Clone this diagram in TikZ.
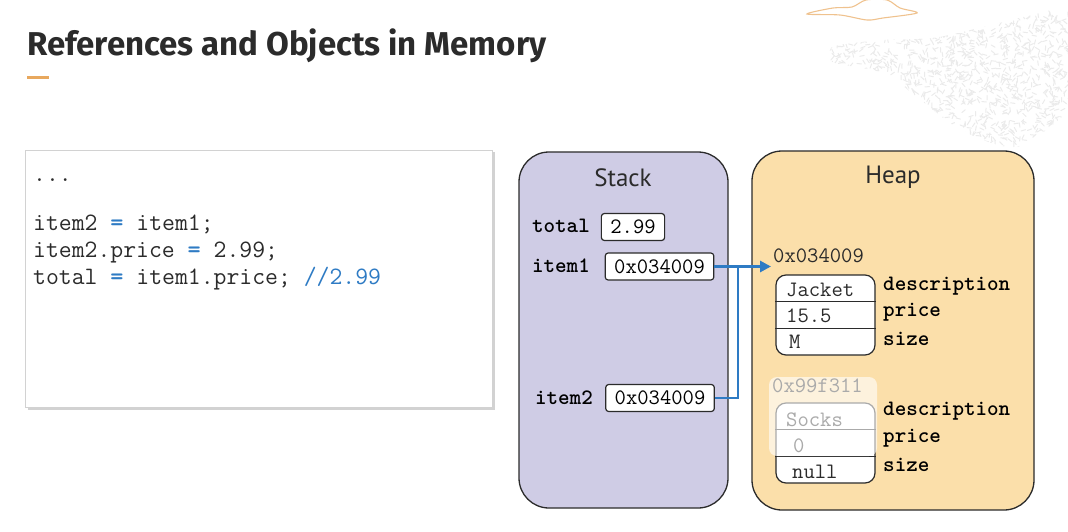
\documentclass[tikz,border=0pt]{standalone}
\usepackage{fontspec}
\setmainfont{PT Sans}
\newfontfamily\titlefont{Fira Sans}
\usetikzlibrary{positioning,arrows.meta,calc,shadows}

\definecolor{stackfill}{HTML}{CFCCE5}
\definecolor{heapfill}{HTML}{FBDFAA}
\definecolor{refblue}{HTML}{2E7BC4}
\definecolor{accent}{HTML}{E8A85E}
\definecolor{edge}{HTML}{2B2B2B}

\newcommand{\codetxt}{\ttfamily\fontsize{25}{28}\selectfont}
\newcommand{\valtxt}{\ttfamily\fontsize{22}{24}\selectfont}
\newcommand{\fieldtxt}{\ttfamily\bfseries\fontsize{22}{24}\selectfont}
\newcommand{\eqsign}{\textcolor{refblue}{\bfseries =}}

\tikzset{
  area/.style={draw=edge, line width=1.3pt, rounded corners=30pt},
  valbox/.style={draw=edge, fill=white, line width=1.2pt, rounded corners=3pt,
    minimum height=27pt, inner xsep=9pt, inner ysep=0pt, font=\valtxt},
  objbox/.style={draw=edge, fill=white, line width=1.2pt, rounded corners=10pt,
    minimum width=99pt, minimum height=80pt},
  cell/.style={anchor=west, inner sep=0pt, font=\valtxt, text=edge},
  field/.style={anchor=west, inner sep=0pt, font=\fieldtxt},
  varname/.style={anchor=east, inner sep=0pt, font=\fieldtxt},
  codeline/.style={anchor=base west, inner sep=0pt, font=\codetxt, text=edge},
  ref/.style={draw=refblue, line width=2.8pt},
}

\begin{document}
\begin{tikzpicture}[x=1pt,y=-1pt]
  \useasboundingbox (0,0) rectangle (1068,532);

  % backdrop sketch
  \begin{scope}
    \clip plot[smooth cycle] coordinates {(830,55) (835,46) (883,40) (933,38) (983,27)
      (1033,15) (1070,12) (1070,100) (1050,127) (1017,147) (983,140) (950,123)
      (917,97) (883,73) (835,63)};
    \pgfmathsetseed{11}
    \foreach \i in {1,...,1500}{
      \pgfmathsetmacro{\rx}{828+242*rnd}
      \pgfmathsetmacro{\ry}{10+140*rnd}
      \pgfmathsetmacro{\ra}{360*rnd}
      \draw[gray!16, line width=1pt, line cap=round] (\rx,\ry) -- ++(\ra:4.5);
    }
  \end{scope}
  \draw[accent!70, line width=1.1pt] plot[smooth cycle] coordinates {(807,14) (833,8)
    (852,7) (866,0) (887,0) (900,8) (917,13) (883,18) (867,20) (840,15)};

  % title
  \node[anchor=base west, inner sep=0pt, font=\titlefont\bfseries\fontsize{33}{36}\selectfont,
    text=edge] (title) at (27,56) {References and Objects in Memory};
  \fill[accent] (27,76.5) rectangle (49,79.5);

  % code panel
  \node[draw=gray!35, fill=white, line width=0.8pt, minimum width=467pt,
    minimum height=257pt, drop shadow={shadow xshift=2.5pt, shadow yshift=-2.5pt,
    fill=gray!70}] (code) at (258.5,278.5) {};
  \node[codeline] (dots) at (33,181) {...};
  \node[codeline] (line1) at (33,230) {item2 \eqsign{} item1;};
  \node[codeline] (line2) at (33,257) {item2.price \eqsign{} 2.99;};
  \node[codeline] (line3) at (33,284) {total \eqsign{} item1.price; \textcolor{refblue}{//2.99}};

  % stack
  \node[area, fill=stackfill, minimum width=209pt, minimum height=356pt] (stack)
    at (623.5,330) {};
  \node[font=\fontsize{25}{28}\selectfont, text=edge] (stacklbl) at (623,178) {Stack};
  \node[valbox] (total) at (633,227) {2.99};
  \node[varname] at (590,226) (totalname) {total};
  \node[valbox] (item1) at (659.5,266.5) {0x034009};
  \node[varname] at (590,266) (item1name) {item1};
  \node[valbox] (item2) at (660,398) {0x034009};
  \node[varname] at (593,398) (item2name) {item2};

  % heap
  \node[area, fill=heapfill, minimum width=282pt, minimum height=359pt] (heap)
    at (893,330.5) {};
  \node[font=\fontsize{25}{28}\selectfont, text=edge] (heaplbl) at (893,177) {Heap};

  % jacket object
  \node[cell] (addr1) at (773,256) {0x034009};
  \node[objbox] (obj1) at (825.5,315) {};
  \draw[edge, line width=1.2pt] ($(obj1.north west)!1/3!(obj1.south west)$)
    -- ($(obj1.north east)!1/3!(obj1.south east)$);
  \draw[edge, line width=1.2pt] ($(obj1.north west)!2/3!(obj1.south west)$)
    -- ($(obj1.north east)!2/3!(obj1.south east)$);
  \node[cell] (jacket) at (786,290) {Jacket};
  \node[cell] (price1) at (786,316) {15.5};
  \node[cell] (size1) at (789,342) {M};
  \node[field] (desc1) at (883,286) {description};
  \node[field] (pricef1) at (883,312) {price};
  \node[field] (sizef1) at (883,339) {size};

  % socks object
  \node[cell] (addr2) at (772,386) {0x99f311};
  \node[objbox] (obj2) at (825.5,443) {};
  \draw[edge, line width=1.2pt] ($(obj2.north west)!1/3!(obj2.south west)$)
    -- ($(obj2.north east)!1/3!(obj2.south east)$);
  \draw[edge, line width=1.2pt] ($(obj2.north west)!2/3!(obj2.south west)$)
    -- ($(obj2.north east)!2/3!(obj2.south east)$);
  \node[cell] (socks) at (786,420) {Socks};
  \node[cell] (price2) at (793,446) {0};
  \node[cell] (size2) at (792,472) {null};
  \fill[white, opacity=0.6, rounded corners=8pt] (769,377) rectangle (877,456);
  \node[field] (desc2) at (883,411) {description};
  \node[field] (pricef2) at (883,438) {price};
  \node[field] (sizef2) at (883,465) {size};

  % references
  \coordinate (join) at (738,266.5);
  \coordinate (target) at (771,266.5);
  \draw[ref] (item2.east) -| (join);
  \draw[ref, -{Triangle[length=11pt, width=11pt]}] (item1.east) -- (target);
\end{tikzpicture}
\end{document}
